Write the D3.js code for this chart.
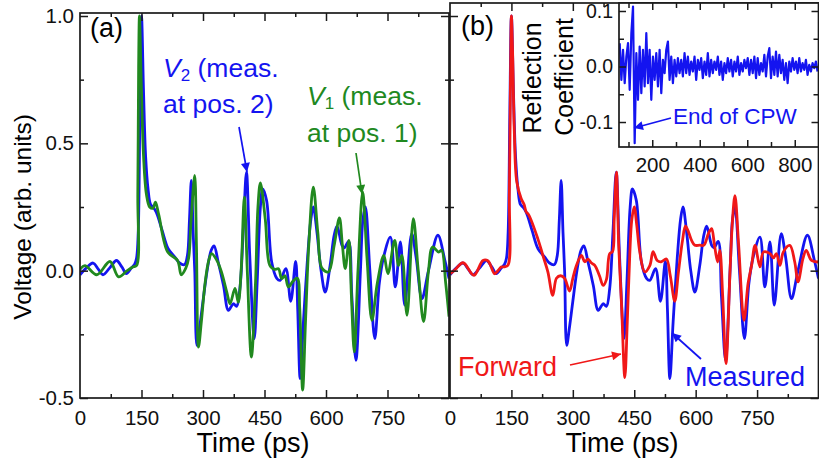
<!DOCTYPE html>
<html lang="en">
<head>
    <meta charset="utf-8">
    <style>
        body { margin: 0; background: #fff; }
        svg { display: block; font-family: "Liberation Sans", Arial, sans-serif; }
        .frame { fill: none; stroke: #1a1a1a; stroke-width: 1.7; }
        .tick line { stroke: #1a1a1a; stroke-width: 1.5; }
        .tick text { fill: #111; }
        .curve { fill: none; stroke-width: 2.8; stroke-linejoin: round; }
    </style>
</head>
<body>
<svg id="mainSVG" width="819" height="464"></svg>
<script src="https://cdn.jsdelivr.net/npm/d3@7"></script>
<script>

    // ---- data ----
    // V2, measured at position 2 (blue, used in both panels)
    var v2Time = [0, 15, 32, 45, 56, 72, 89, 102, 113, 125, 133, 138, 142, 146, 150, 155, 160, 166, 172, 178, 186, 200, 215, 231, 243, 255, 262, 267, 271.5, 276, 280, 285, 292, 300, 310, 320, 327, 337, 350, 362, 374, 382, 390, 398, 406, 414, 425, 432, 440, 445.5, 455, 467.5, 480, 488, 502, 514, 526, 531, 537, 545, 555, 563, 569, 578, 588, 598, 610, 620, 627, 639, 645, 655, 663, 673, 684, 690, 696, 707, 719, 730, 740, 757, 769, 781.5, 792, 809, 820, 834, 850, 873, 890, 900];
    var v2Value = [-0.016, 0.01, 0.03, 0.005, -0.016, 0.01, 0.04, 0.015, -0.012, 0.01, 0.024, 0.05, 0.15, 0.6, 1.0, 0.7, 0.45, 0.32, 0.26, 0.25, 0.23, 0.16, 0.086, 0.054, 0.03, 0.024, 0.06, 0.2, 0.354, 0.15, -0.005, -0.293, -0.22, -0.12, 0.0, 0.08, 0.097, 0.034, -0.058, -0.156, -0.13, -0.14, -0.07, 0.152, 0.387, 0.06, -0.267, -0.05, 0.25, 0.321, 0.276, 0.034, -0.03, -0.038, 0.008, -0.12, 0.036, -0.15, -0.424, -0.2, 0.05, 0.2, 0.25, 0.15, 0.0, -0.084, 0.02, 0.14, 0.175, 0.1, 0.09, 0.115, -0.1, -0.352, 0.0, 0.2, 0.25, 0.0, -0.267, -0.05, 0.05, 0.132, -0.064, 0.113, -0.135, 0.145, 0.05, -0.11, 0.0, 0.139, 0.04, -0.031];

    // V1, measured at position 1 (green)
    var v1Time = [0, 12, 41, 73, 94, 115, 130, 138, 141, 143, 145, 150, 155, 162, 170, 178, 184, 192, 214, 238, 247, 258, 265, 271, 279.7, 284, 289, 296, 305, 314, 321, 334, 345, 358, 366, 378, 386, 393, 400.8, 408, 418, 428, 434, 440, 452, 463, 475, 484, 492, 500, 508, 520, 530, 536, 543, 550, 558, 569, 580, 590, 606, 620, 632.7, 640, 647, 656, 662, 669, 678, 689.5, 700, 712, 725, 741, 751, 767.5, 777, 785, 797.6, 813, 825, 838, 850, 860, 875, 882, 892, 900];
    var v1Value = [0.005, 0.02, -0.016, 0.036, -0.024, 0.0, 0.015, 0.02, 0.3, 0.8, 1.0, 0.7, 0.45, 0.3, 0.25, 0.245, 0.269, 0.22, 0.073, 0.04, -0.016, 0.01, 0.05, 0.2, 0.374, 0.1, -0.3, -0.2, -0.05, 0.04, 0.067, 0.04, -0.005, -0.084, -0.13, -0.07, -0.124, 0.0, 0.289, 0.0, -0.339, -0.05, 0.25, 0.345, 0.2, 0.021, 0.005, 0.008, -0.031, -0.02, -0.064, -0.04, -0.03, -0.15, -0.469, -0.2, 0.1, 0.328, 0.15, 0.01, -0.005, 0.1, 0.207, 0.1, 0.008, 0.119, -0.1, -0.319, 0.0, 0.309, 0.05, -0.195, -0.05, 0.06, -0.012, 0.119, 0.021, 0.06, -0.175, 0.204, 0.0, -0.2, 0.0, 0.093, 0.073, 0.08, -0.05, -0.18];

    // forward wave (red, panel b)
    var fwdTime = [0, 11, 32, 58.5, 80.5, 93, 109, 117, 125, 133, 141.5, 145, 148, 150, 153, 157, 163, 174, 181, 186, 192, 214.6, 226.8, 239, 251, 260, 270, 280, 292, 300, 309, 321, 329, 337, 345.5, 353.6, 365, 374, 382, 390, 397, 401, 406.5, 412, 419, 427, 433, 439, 444, 450, 456, 463.4, 475.6, 488, 496, 506, 516, 528.5, 538, 549, 558, 568, 575, 583, 590, 598, 610, 620, 631, 639, 646, 653.7, 659, 666, 674, 684, 690, 696, 705, 718, 728, 736.6, 745, 757, 765.4, 781.5, 790, 797, 806, 814, 830, 842, 850, 862, 870, 883, 900];
    var fwdValue = [-0.012, 0.001, 0.031, -0.018, 0.04, 0.038, -0.012, 0.0, 0.014, 0.015, 0.021, 0.3, 0.8, 1.0, 0.85, 0.55, 0.35, 0.282, 0.26, 0.231, 0.22, 0.125, 0.06, -0.005, -0.097, -0.03, -0.02, -0.03, -0.08, -0.03, 0.021, 0.06, 0.035, 0.045, 0.03, 0.021, -0.02, -0.058, -0.035, 0.067, 0.075, 0.2, 0.387, 0.1, -0.136, -0.42, -0.2, 0.06, 0.2, 0.25, 0.18, 0.075, -0.005, 0.02, 0.075, 0.04, 0.035, 0.046, -0.02, -0.12, -0.005, 0.12, 0.175, 0.15, 0.119, 0.1, 0.1, 0.1, 0.145, 0.165, 0.1, 0.034, 0.08, -0.1, -0.365, 0.0, 0.2, 0.295, 0.1, -0.195, -0.05, 0.021, 0.099, 0.015, 0.073, 0.067, 0.05, 0.067, 0.021, 0.073, 0.099, 0.034, -0.044, 0.047, 0.08, 0.04, 0.034];

    // inset: reflection coefficient, sampled every 7 ps from 63 ps
    var reflStart = 63, reflStep = 7;
    var reflValue = [0.042, -0.024, 0.030, -0.030, 0.018, 0.042, -0.042, 0.060, 0.108, -0.138, 0.024, -0.060, 0.036, -0.048, 0.030, -0.036, 0.060, -0.030, 0.030, -0.060,
        0.018, -0.024, 0.024, -0.036, 0.030, -0.048, 0.012, -0.012, 0.030, 0.045, -0.024, 0.018, -0.030, 0.012, -0.018, 0.015, -0.012, 0.012, -0.018, 0.024,
        -0.012, 0.018, -0.015, 0.009, -0.009, 0.018, -0.024, 0.012, -0.006, 0.015, -0.021, 0.009, -0.015, 0.024, -0.018, 0.012, -0.012, 0.009, -0.006, 0.018,
        -0.015, 0.009, -0.024, 0.006, -0.012, 0.015, -0.009, 0.012, -0.018, 0.009, -0.009, 0.018, -0.015, 0.006, -0.009, 0.012, -0.003, 0.015, -0.015, 0.012,
        -0.012, 0.018, -0.021, 0.015, -0.015, 0.006, -0.009, 0.021, -0.018, 0.018, 0.033, -0.021, 0.018, -0.015, 0.027, -0.018, 0.021, -0.012, 0.012, -0.024,
        0.006, -0.030, 0.009, -0.009, 0.015, -0.006, 0.009, -0.012, 0.015, -0.009, 0.006, -0.006, 0.012, -0.015, 0.003, -0.009, 0.006, -0.003, 0.009, -0.009];

    var timeTicks = [0, 150, 300, 450, 600, 750];
    var voltTicks = [-0.5, 0.0, 0.5, 1.0];
    var insetXTicks = [200, 400, 600, 800];
    var insetYTicks = [-0.1, 0.0, 0.1];

    var BLUE = "#1414f0", GREEN = "#21891f", RED = "#f01818";

    var svg = d3.select("svg");

    function pts(t, v) { return t.map(function (d, i) { return [d, v[i]]; }); }

    var y = d3.scaleLinear().domain([-0.5, 1.0]).range([398, 16]);
    var xa = d3.scaleLinear().domain([0, 900]).range([80, 449]);
    var xb = d3.scaleLinear().domain([0, 900]).range([450, 818.5]);

    // arrow heads
    var defs = svg.append("defs");
    [["blue", BLUE], ["green", GREEN], ["red", RED]].forEach(function (c) {
        defs.append("marker")
            .attr("id", "arr-" + c[0])
            .attr("markerUnits", "userSpaceOnUse")
            .attr("viewBox", "0 0 10 10")
            .attr("refX", 10).attr("refY", 5)
            .attr("markerWidth", 12).attr("markerHeight", 9)
            .attr("orient", "auto")
            .append("path")
            .attr("d", "M0,0 L10,5 L0,10 Z")
            .attr("fill", c[1]);
    });
    defs.append("clipPath").attr("id", "clipA").append("rect")
        .attr("x", 80).attr("y", 13).attr("width", 369).attr("height", 385);
    defs.append("clipPath").attr("id", "clipB").append("rect")
        .attr("x", 450).attr("y", 3).attr("width", 369).attr("height", 395);
    defs.append("clipPath").attr("id", "clipI").append("rect")
        .attr("x", 619).attr("y", 3).attr("width", 200).attr("height", 144);

    function fmt1(d) { return d.toFixed(1); }

    // draws major + minor inward ticks on four sides
    function frameTicks(g, x, yy, xMaj, xMin, yMaj, yMin, top, bottom, left, right, big, small) {
        g.append("g").attr("transform", "translate(0," + bottom + ")")
            .call(d3.axisBottom(x).tickValues(xMin).tickSize(-small).tickFormat(""));
        g.append("g").attr("transform", "translate(0," + top + ")")
            .call(d3.axisTop(x).tickValues(xMin).tickSize(-small).tickFormat(""));
        g.append("g").attr("transform", "translate(0," + top + ")")
            .call(d3.axisTop(x).tickValues(xMaj).tickSize(-big).tickFormat(""));
        g.append("g").attr("transform", "translate(0," + bottom + ")")
            .call(d3.axisBottom(x).tickValues(xMaj).tickSize(-big).tickFormat(""));
        g.append("g").attr("transform", "translate(" + left + ",0)")
            .call(d3.axisLeft(yy).tickValues(yMin).tickSize(-small).tickFormat(""));
        g.append("g").attr("transform", "translate(" + left + ",0)")
            .call(d3.axisLeft(yy).tickValues(yMaj).tickSize(-big).tickFormat(""));
        g.append("g").attr("transform", "translate(" + right + ",0)")
            .call(d3.axisRight(yy).tickValues(yMin).tickSize(-small).tickFormat(""));
        g.append("g").attr("transform", "translate(" + right + ",0)")
            .call(d3.axisRight(yy).tickValues(yMaj).tickSize(-big).tickFormat(""));
        g.selectAll(".domain").remove();
    }

    var minorT = [75, 225, 375, 525, 675, 825];
    var majorT = [150, 300, 450, 600, 750];
    var minorV = [-0.25, 0.25, 0.75];

    var line = function (x, yy) {
        return d3.line().x(function (d) { return x(d[0]); }).y(function (d) { return yy(d[1]); })
            .curve(d3.curveCatmullRom.alpha(0.5));
    };

    // ---------------- panel (a) ----------------
    var ga = svg.append("g");
    var ca = ga.append("g").attr("clip-path", "url(#clipA)");
    ca.append("path").datum(pts(v2Time, v2Value)).attr("class", "curve")
        .attr("stroke", BLUE).attr("d", line(xa, y));
    ca.append("path").datum(pts(v1Time, v1Value)).attr("class", "curve")
        .attr("stroke", GREEN).attr("d", line(xa, y));

    frameTicks(ga, xa, y, majorT, minorT, voltTicks, minorV, 13, 398, 80, 449, 8, 4);
    ga.append("rect").attr("class", "frame").attr("x", 80).attr("y", 13).attr("width", 369).attr("height", 385);

    ga.append("g").attr("transform", "translate(0,398)")
        .call(d3.axisBottom(xa).tickValues(timeTicks).tickSize(0).tickPadding(12).tickFormat(function (d) { return d; }))
        .call(function (g) { g.select(".domain").remove(); })
        .selectAll("text").attr("font-size", 20.5).attr("font-family", null);
    ga.append("g").attr("transform", "translate(80,0)")
        .call(d3.axisLeft(y).tickValues(voltTicks).tickSize(0).tickPadding(6).tickFormat(fmt1))
        .call(function (g) { g.select(".domain").remove(); })
        .selectAll("text").attr("font-size", 20.5).attr("font-family", null);

    ga.append("text").attr("x", 90).attr("y", 37).attr("font-size", 27).text("(a)");

    var t2 = ga.append("text").attr("x", 163).attr("y", 77).attr("font-size", 26.5).attr("fill", BLUE);
    t2.append("tspan").attr("font-style", "italic").text("V");
    t2.append("tspan").attr("font-size", 17).attr("dy", 4).text("2");
    t2.append("tspan").attr("dy", -4).text(" (meas.");
    ga.append("text").attr("x", 163).attr("y", 113).attr("font-size", 26.5).attr("fill", BLUE).text("at pos. 2)");

    var t1 = ga.append("text").attr("x", 307).attr("y", 105).attr("font-size", 26.5).attr("fill", GREEN);
    t1.append("tspan").attr("font-style", "italic").text("V");
    t1.append("tspan").attr("font-size", 17).attr("dy", 4).text("1");
    t1.append("tspan").attr("dy", -4).text(" (meas.");
    ga.append("text").attr("x", 307).attr("y", 142).attr("font-size", 26.5).attr("fill", GREEN).text("at pos. 1)");

    ga.append("line").attr("x1", 239).attr("y1", 127).attr("x2", 247).attr("y2", 172)
        .attr("stroke", BLUE).attr("stroke-width", 1.7).attr("marker-end", "url(#arr-blue)");
    ga.append("line").attr("x1", 356).attr("y1", 153).attr("x2", 362).attr("y2", 194)
        .attr("stroke", GREEN).attr("stroke-width", 1.7).attr("marker-end", "url(#arr-green)");

    ga.append("text").attr("transform", "translate(31,217) rotate(-90)")
        .attr("text-anchor", "middle").attr("font-size", 24.5).text("Voltage (arb. units)");
    ga.append("text").attr("x", 253).attr("y", 452).attr("text-anchor", "middle")
        .attr("font-size", 27).text("Time (ps)");

    // ---------------- panel (b) ----------------
    var gb = svg.append("g");
    var cb = gb.append("g").attr("clip-path", "url(#clipB)");
    cb.append("path").datum(pts(v2Time, v2Value)).attr("class", "curve")
        .attr("stroke", BLUE).attr("d", line(xb, y));
    cb.append("path").datum(pts(fwdTime, fwdValue)).attr("class", "curve")
        .attr("stroke", RED).attr("d", line(xb, y));

    frameTicks(gb, xb, y, majorT, minorT, voltTicks, minorV, 3, 398, 450, 818.5, 8, 4);
    gb.append("rect").attr("class", "frame").attr("x", 450).attr("y", 3).attr("width", 368.5).attr("height", 395);

    gb.append("g").attr("transform", "translate(0,398)")
        .call(d3.axisBottom(xb).tickValues(timeTicks).tickSize(0).tickPadding(12).tickFormat(function (d) { return d; }))
        .call(function (g) { g.select(".domain").remove(); })
        .selectAll("text").attr("font-size", 20.5).attr("font-family", null);

    gb.append("text").attr("x", 461).attr("y", 35).attr("font-size", 27).text("(b)");
    gb.append("text").attr("x", 458).attr("y", 376).attr("font-size", 27).attr("fill", RED).text("Forward");
    gb.append("text").attr("x", 685).attr("y", 386).attr("font-size", 27).attr("fill", BLUE).text("Measured");
    gb.append("line").attr("x1", 570).attr("y1", 365).attr("x2", 621).attr("y2", 354)
        .attr("stroke", RED).attr("stroke-width", 1.7).attr("marker-end", "url(#arr-red)");
    gb.append("line").attr("x1", 701).attr("y1", 359).attr("x2", 672).attr("y2", 333)
        .attr("stroke", BLUE).attr("stroke-width", 1.7).attr("marker-end", "url(#arr-blue)");
    gb.append("text").attr("x", 622).attr("y", 452).attr("text-anchor", "middle")
        .attr("font-size", 27).text("Time (ps)");

    // ---------------- inset ----------------
    var xi = d3.scaleLinear().domain([60, 900]).range([619, 818.5]);
    var yi = d3.scaleLinear().domain([-0.145, 0.1144]).range([147, 3]);
    var gi = svg.append("g");
    gi.append("rect").attr("x", 619).attr("y", 3).attr("width", 199.5).attr("height", 144).attr("fill", "#fff");
    var reflPts = reflValue.map(function (v, i) { return [reflStart + i * reflStep, v]; });
    gi.append("g").attr("clip-path", "url(#clipI)")
        .append("path").datum(reflPts).attr("fill", "none").attr("stroke", BLUE)
        .attr("stroke-width", 2.2).attr("stroke-linejoin", "round")
        .attr("d", d3.line().x(function (d) { return xi(d[0]); }).y(function (d) { return yi(d[1]); }));

    frameTicks(gi, xi, yi, insetXTicks, [100, 300, 500, 700, 900], insetYTicks, [-0.05, 0.05], 3, 147, 619, 818.5, 7, 5);
    gi.append("rect").attr("class", "frame").attr("x", 619).attr("y", 3).attr("width", 199.5).attr("height", 144);

    gi.append("g").attr("transform", "translate(0,147)")
        .call(d3.axisBottom(xi).tickValues(insetXTicks).tickSize(0).tickPadding(10).tickFormat(function (d) { return d; }))
        .call(function (g) { g.select(".domain").remove(); })
        .selectAll("text").attr("font-size", 20.5).attr("font-family", null);
    gi.append("g").attr("transform", "translate(619,0)")
        .call(d3.axisLeft(yi).tickValues(insetYTicks).tickSize(0).tickPadding(6).tickFormat(fmt1))
        .call(function (g) { g.select(".domain").remove(); })
        .selectAll("text").attr("font-size", 19.5).attr("font-family", null);

    gi.append("text").attr("transform", "translate(541,78) rotate(-90)")
        .attr("text-anchor", "middle").attr("font-size", 25).text("Reflection");
    gi.append("text").attr("transform", "translate(573,77) rotate(-90)")
        .attr("text-anchor", "middle").attr("font-size", 25).text("Coefficient");
    gi.append("text").attr("x", 673).attr("y", 124).attr("font-size", 22.5).attr("fill", BLUE).text("End of CPW");
    gi.append("line").attr("x1", 671).attr("y1", 118).attr("x2", 634).attr("y2", 128)
        .attr("stroke", BLUE).attr("stroke-width", 1.7).attr("marker-end", "url(#arr-blue)");

</script>
</body>
</html>
